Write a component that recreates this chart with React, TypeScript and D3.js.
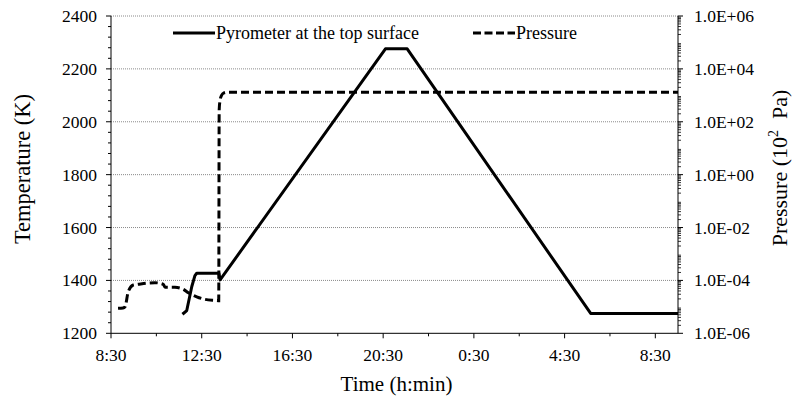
import React from "react";
import * as d3 from "d3";

// Time axis: hours since midnight of the first day (values past 24 wrap to the next day)
const timeTicks = [8.5, 12.5, 16.5, 20.5, 24.5, 28.5, 32.5];
const tempTicks = [1200, 1400, 1600, 1800, 2000, 2200, 2400];
const pressureTicks = [1e-6, 1e-4, 1e-2, 1e0, 1e2, 1e4, 1e6];

// Pyrometer reading at the top surface: [hour, temperature K]
const pyrometerTime = [11.65, 11.84, 12.06, 12.2, 12.28, 13.26, 13.31, 20.6, 21.56, 29.65, 33.5];
const pyrometerTemp = [1272, 1286, 1376, 1418, 1427, 1427, 1402, 2276, 2276, 1275, 1275];

// Chamber pressure: [hour, pressure in 10^2 Pa]
const pressureTime = [8.81, 9.03, 9.12, 9.26, 9.48, 9.69, 10.44, 10.81, 10.88, 11.32, 11.69, 11.91, 12.28, 12.64, 13.23, 13.25, 13.27, 13.31, 13.38, 13.48, 13.61, 33.5];
const pressureValue = [8.8e-6, 9.05e-6, 1.01e-5, 3.74e-5, 6.7e-5, 7.1e-5, 8.2e-5, 7.1e-5, 5.5e-5, 5.5e-5, 4.6e-5, 3.4e-5, 2.4e-5, 1.93e-5, 1.71e-5, 1.7e-5, 2.8e2, 6.6e2, 1.02e3, 1.23e3, 1.3e3, 1.3e3];

const W = 795;
const H = 407;
const left = 111;
const right = 678;
const top = 16;
const bottom = 333.3;
const FONT = "Liberation Serif";

export default function App() {
  const x = d3.scaleLinear().domain([8.5, 33.5]).range([left, right]);
  const yT = d3.scaleLinear().domain([1200, 2400]).range([bottom, top]);
  const yP = d3.scaleLog().domain([1e-6, 1e6]).range([bottom, top]);

  const pyroPts: [number, number][] = pyrometerTime.map((t, i) => [t, pyrometerTemp[i]]);
  const presPts: [number, number][] = pressureTime.map((t, i) => [t, pressureValue[i]]);

  const pyroLine = d3.line<[number, number]>().x((d) => x(d[0])).y((d) => yT(d[1]));
  const presLine = d3
    .line<[number, number]>()
    .x((d) => x(d[0]))
    .y((d) => yP(d[1]))
    .curve(d3.curveMonotoneX);

  const minorTime = d3.range(10.5, 33.5, 4);
  const minorTemp = d3.range(1200, 2400, 40).filter((v) => v % 200 !== 0);
  const minorPressure: number[] = [];
  for (let e = -6; e < 6; e++) {
    for (let k = 2; k <= 9; k++) minorPressure.push(k * Math.pow(10, e));
  }

  const fmtTime = (h: number) => `${Math.floor(h) % 24}:30`;
  const fmtP = (v: number) => {
    const e = Math.round(Math.log10(v));
    return `1.0E${e < 0 ? "-" : "+"}${String(Math.abs(e)).padStart(2, "0")}`;
  };

  const txt = { fontFamily: FONT, fill: "#000" } as React.CSSProperties;

  return (
    <svg
      width={W}
      height={H}
      style={{ position: "absolute", left: 0, top: 0, background: "#fff" }}
    >
      <rect width={W} height={H} fill="#fff" />

      {/* horizontal grid */}
      {tempTicks
        .filter((v) => v > 1200)
        .map((v) => (
          <line
            key={`g${v}`}
            x1={left}
            x2={right}
            y1={yT(v)}
            y2={yT(v)}
            stroke="#8a8a8a"
            strokeWidth={1}
            strokeDasharray="1,1"
          />
        ))}

      {/* left axis */}
      <line x1={left} x2={left} y1={top} y2={bottom} stroke="#000" strokeWidth={1} />
      {tempTicks.map((v) => (
        <g key={`t${v}`}>
          <line x1={left - 5} x2={left} y1={yT(v)} y2={yT(v)} stroke="#000" />
          <text x={97} y={yT(v) + 6} fontSize={17.5} textAnchor="end" style={txt}>
            {v}
          </text>
        </g>
      ))}
      {minorTemp.map((v) => (
        <line key={`mt${v}`} x1={left - 3} x2={left} y1={yT(v)} y2={yT(v)} stroke="#000" />
      ))}

      {/* bottom axis */}
      <line x1={left} x2={right} y1={bottom} y2={bottom} stroke="#000" strokeWidth={1} />
      {timeTicks.map((v) => (
        <g key={`x${v}`}>
          <line x1={x(v)} x2={x(v)} y1={bottom} y2={bottom + 5} stroke="#000" />
          <text x={x(v)} y={361} fontSize={17.5} textAnchor="middle" style={txt}>
            {fmtTime(v)}
          </text>
        </g>
      ))}
      {minorTime.map((v) => (
        <line key={`mx${v}`} x1={x(v)} x2={x(v)} y1={bottom} y2={bottom + 3} stroke="#000" />
      ))}

      {/* right axis */}
      <line x1={right} x2={right} y1={top} y2={bottom} stroke="#000" strokeWidth={1} />
      {pressureTicks.map((v) => (
        <g key={`p${v}`}>
          <line x1={right} x2={right + 5} y1={yP(v)} y2={yP(v)} stroke="#000" />
          <text x={694} y={yP(v) + 6} fontSize={17.5} textAnchor="start" style={txt}>
            {fmtP(v)}
          </text>
        </g>
      ))}
      {minorPressure.map((v, i) => (
        <line
          key={`mp${i}`}
          x1={right}
          x2={right + 3}
          y1={yP(v)}
          y2={yP(v)}
          stroke="#000"
          strokeWidth={0.8}
        />
      ))}

      {/* data */}
      <path
        d={presLine(presPts) || ""}
        fill="none"
        stroke="#000"
        strokeWidth={3}
        strokeDasharray="8,4"
      />
      <path
        d={pyroLine(pyroPts) || ""}
        fill="none"
        stroke="#000"
        strokeWidth={3}
        strokeLinejoin="round"
      />

      {/* legend */}
      <line x1={173} x2={215} y1={33} y2={33} stroke="#000" strokeWidth={3} />
      <text x={216} y={39} fontSize={18} style={txt}>
        Pyrometer at the top surface
      </text>
      <line x1={473} x2={515} y1={33} y2={33} stroke="#000" strokeWidth={3} strokeDasharray="8,3.5" />
      <text x={516} y={39} fontSize={18} style={txt}>
        Pressure
      </text>

      {/* axis titles */}
      <text x={(left + right) / 2 + 2} y={391} fontSize={21} textAnchor="middle" style={txt}>
        Time (h:min)
      </text>
      <text transform="translate(30,169) rotate(-90)" fontSize={22.5} textAnchor="middle" style={txt}>
        Temperature (K)
      </text>
      <text transform="translate(787,168) rotate(-90)" fontSize={22} textAnchor="middle" style={txt}>
        Pressure (10
        <tspan dy={-9} fontSize={14}>
          2
        </tspan>
        <tspan dy={9}>{"\u00a0 Pa)"}</tspan>
      </text>
    </svg>
  );
}
